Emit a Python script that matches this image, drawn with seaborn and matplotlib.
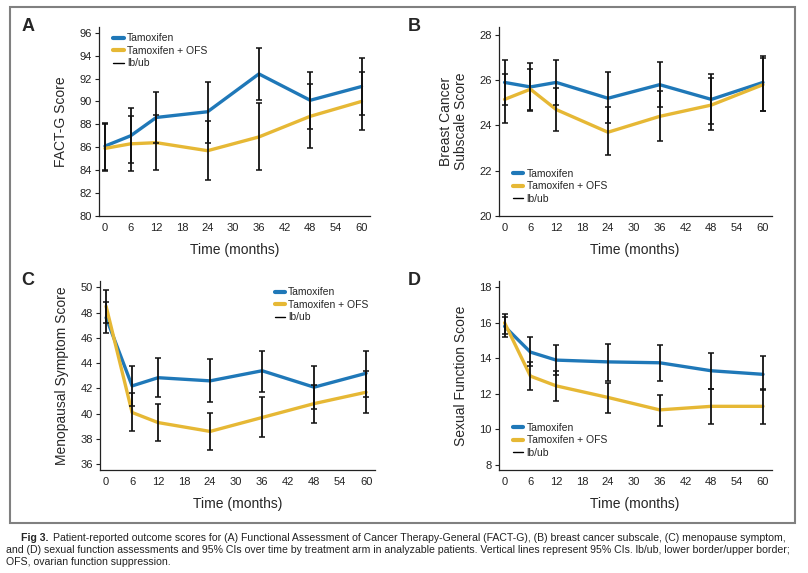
import numpy as np
import pandas as pd
import matplotlib
matplotlib.use('Agg')
import matplotlib.pyplot as plt
import seaborn as sns
from matplotlib.lines import Line2D
from matplotlib.patches import Rectangle

# time points (months)
months = [0, 6, 12, 24, 36, 48, 60]

# A: FACT-G
a_tam = [86.1, 87.0, 88.6, 89.1, 92.4, 90.1, 91.3]
a_tam_lo = [84.0, 84.6, 86.4, 86.4, 90.1, 87.6, 88.8]
a_tam_hi = [88.1, 89.4, 90.8, 91.7, 94.7, 92.6, 93.8]
a_ofs = [85.9, 86.3, 86.4, 85.7, 86.9, 88.7, 90.0]
a_ofs_lo = [83.9, 83.9, 84.0, 83.1, 84.0, 85.9, 87.5]
a_ofs_hi = [88.0, 88.7, 88.8, 88.3, 89.9, 91.5, 92.6]

# B: breast cancer subscale
b_tam = [25.9, 25.7, 25.9, 25.2, 25.8, 25.15, 25.9]
b_tam_lo = [24.9, 24.7, 24.9, 24.1, 24.8, 24.05, 24.65]
b_tam_hi = [26.9, 26.75, 26.9, 26.35, 26.8, 26.25, 27.05]
b_ofs = [25.15, 25.6, 24.7, 23.7, 24.4, 24.9, 25.8]
b_ofs_lo = [24.1, 24.65, 23.75, 22.7, 23.3, 23.8, 24.65]
b_ofs_hi = [26.25, 26.5, 25.65, 24.8, 25.5, 26.1, 27.0]

# C: menopausal symptom
c_tam = [47.6, 42.2, 42.85, 42.6, 43.4, 42.1, 43.2]
c_tam_lo = [46.4, 40.65, 41.3, 40.9, 41.7, 40.4, 41.3]
c_tam_hi = [48.85, 43.75, 44.4, 44.3, 45.0, 43.75, 45.0]
c_ofs = [48.5, 40.1, 39.3, 38.6, 39.7, 40.8, 41.7]
c_ofs_lo = [47.2, 38.65, 37.85, 37.1, 38.15, 39.3, 40.05]
c_ofs_hi = [49.75, 41.6, 40.75, 40.05, 41.3, 42.3, 43.35]

# D: sexual function
d_tam = [15.8, 14.35, 13.9, 13.8, 13.75, 13.3, 13.1]
d_tam_lo = [15.2, 13.55, 13.05, 12.75, 12.7, 12.3, 12.2]
d_tam_hi = [16.35, 15.2, 14.75, 14.8, 14.75, 14.3, 14.15]
d_ofs = [16.0, 13.0, 12.45, 11.8, 11.1, 11.3, 11.3]
d_ofs_lo = [15.35, 12.2, 11.6, 10.9, 10.2, 10.3, 10.3]
d_ofs_hi = [16.5, 13.8, 13.3, 12.6, 11.95, 12.3, 12.3]

arms = ['Tamoxifen', 'Tamoxifen + OFS']
colors = {'Tamoxifen': '#1f78b8', 'Tamoxifen + OFS': '#e6b835'}

sns.set_style('ticks')
plt.rcParams['font.family'] = ['Liberation Sans', 'DejaVu Sans']
narrow = ['Liberation Sans Narrow', 'Liberation Sans', 'DejaVu Sans']

fig = plt.figure(figsize=(8.08, 5.73), dpi=100)

panels = [
    ('A', 'FACT-G Score', [0.1225, 0.623, 0.3355, 0.330], (80, 96.5), np.arange(80, 97, 2),
     a_tam, a_tam_lo, a_tam_hi, a_ofs, a_ofs_lo, a_ofs_hi, 'upper left', (0.03, 1.0)),
    ('B', 'Breast Cancer\nSubscale Score', [0.617, 0.623, 0.338, 0.330], (20, 28.35), np.arange(20, 29, 2),
     b_tam, b_tam_lo, b_tam_hi, b_ofs, b_ofs_lo, b_ofs_hi, 'lower left', (0.03, 0.03)),
    ('C', 'Menopausal Symptom Score', [0.1238, 0.1798, 0.340, 0.3298], (35.55, 50.5), np.arange(36, 51, 2),
     c_tam, c_tam_lo, c_tam_hi, c_ofs, c_ofs_lo, c_ofs_hi, 'upper right', (1.0, 1.0)),
    ('D', 'Sexual Function Score', [0.617, 0.1798, 0.338, 0.3298], (7.72, 18.35), np.arange(8, 19, 2),
     d_tam, d_tam_lo, d_tam_hi, d_ofs, d_ofs_lo, d_ofs_hi, 'lower left', (0.03, 0.03)),
]

for (letter, ylab, pos, ylim, yticks, tam, tam_lo, tam_hi, ofs, ofs_lo, ofs_hi, loc, anchor) in panels:
    ax = fig.add_axes(pos)
    df = pd.DataFrame({
        'month': months * 2,
        'score': tam + ofs,
        'lo': tam_lo + ofs_lo,
        'hi': tam_hi + ofs_hi,
        'arm': [arms[0]] * len(months) + [arms[1]] * len(months),
    })
    sns.lineplot(data=df, x='month', y='score', hue='arm', palette=colors,
                 linewidth=2.4, ax=ax, legend=False, zorder=2)
    yerr = [df['score'] - df['lo'], df['hi'] - df['score']]
    ax.errorbar(df['month'], df['score'], yerr=yerr, fmt='none', ecolor='#111111',
                elinewidth=1.3, capsize=2.2, capthick=1.1, zorder=3)
    ax.set_xlim(-1.4, 62)
    ax.set_ylim(*ylim)
    ax.set_xticks(np.arange(0, 61, 6))
    ax.set_yticks(yticks)
    ax.tick_params(axis='x', length=0, pad=5, labelsize=8, colors='#222222')
    ax.tick_params(axis='y', length=3, width=0.8, pad=2, labelsize=8, colors='#222222')
    for side in ['top', 'right']:
        ax.spines[side].set_visible(False)
    for side in ['left', 'bottom']:
        ax.spines[side].set_linewidth(0.9)
        ax.spines[side].set_color('#222222')
    ax.set_xlabel('Time (months)', fontsize=10, family=narrow, labelpad=7)
    ax.set_ylabel(ylab, fontsize=10, family=narrow, labelpad=8, linespacing=1.05)
    handles = [Line2D([0], [0], color=colors[arms[0]], lw=3),
               Line2D([0], [0], color=colors[arms[1]], lw=3),
               Line2D([0], [0], color='black', lw=1)]
    ax.legend(handles, arms + ['lb/ub'], loc=loc, bbox_to_anchor=anchor, frameon=False,
              fontsize=7.5, handlelength=1.0, handletextpad=0.3, labelspacing=0.25,
              borderaxespad=0.2)
    bx = 28 / 808 if pos[0] < 0.5 else 414 / 808
    by = pos[1] + pos[3] + 0.0
    fig.text(bx, by, letter, fontsize=13, fontweight='bold', ha='center', va='center')

# outer frame around the panels
fig.patches.append(Rectangle((10 / 808, 1 - 523 / 573), 785 / 808, 516 / 573,
                             transform=fig.transFigure, fill=False,
                             edgecolor='#808080', linewidth=1.5))

# caption
cap_size = 7.6
fig.text(21 / 808, 1 - 538 / 573, 'Fig 3.', fontsize=cap_size, fontweight='bold', family=narrow, va='center')
fig.text(53 / 808, 1 - 538 / 573,
         'Patient-reported outcome scores for (A) Functional Assessment of Cancer Therapy-General (FACT-G), '
         '(B) breast cancer subscale, (C) menopause symptom,',
         fontsize=cap_size, family=narrow, va='center', color='#222222')
fig.text(6 / 808, 1 - 550 / 573,
         'and (D) sexual function assessments and 95% CIs over time by treatment arm in analyzable patients. '
         'Vertical lines represent 95% CIs. lb/ub, lower border/upper border;',
         fontsize=cap_size, family=narrow, va='center', color='#222222')
fig.text(6 / 808, 1 - 562 / 573, 'OFS, ovarian function suppression.',
         fontsize=cap_size, family=narrow, va='center', color='#222222')

fig.savefig('out.png', dpi=100)
